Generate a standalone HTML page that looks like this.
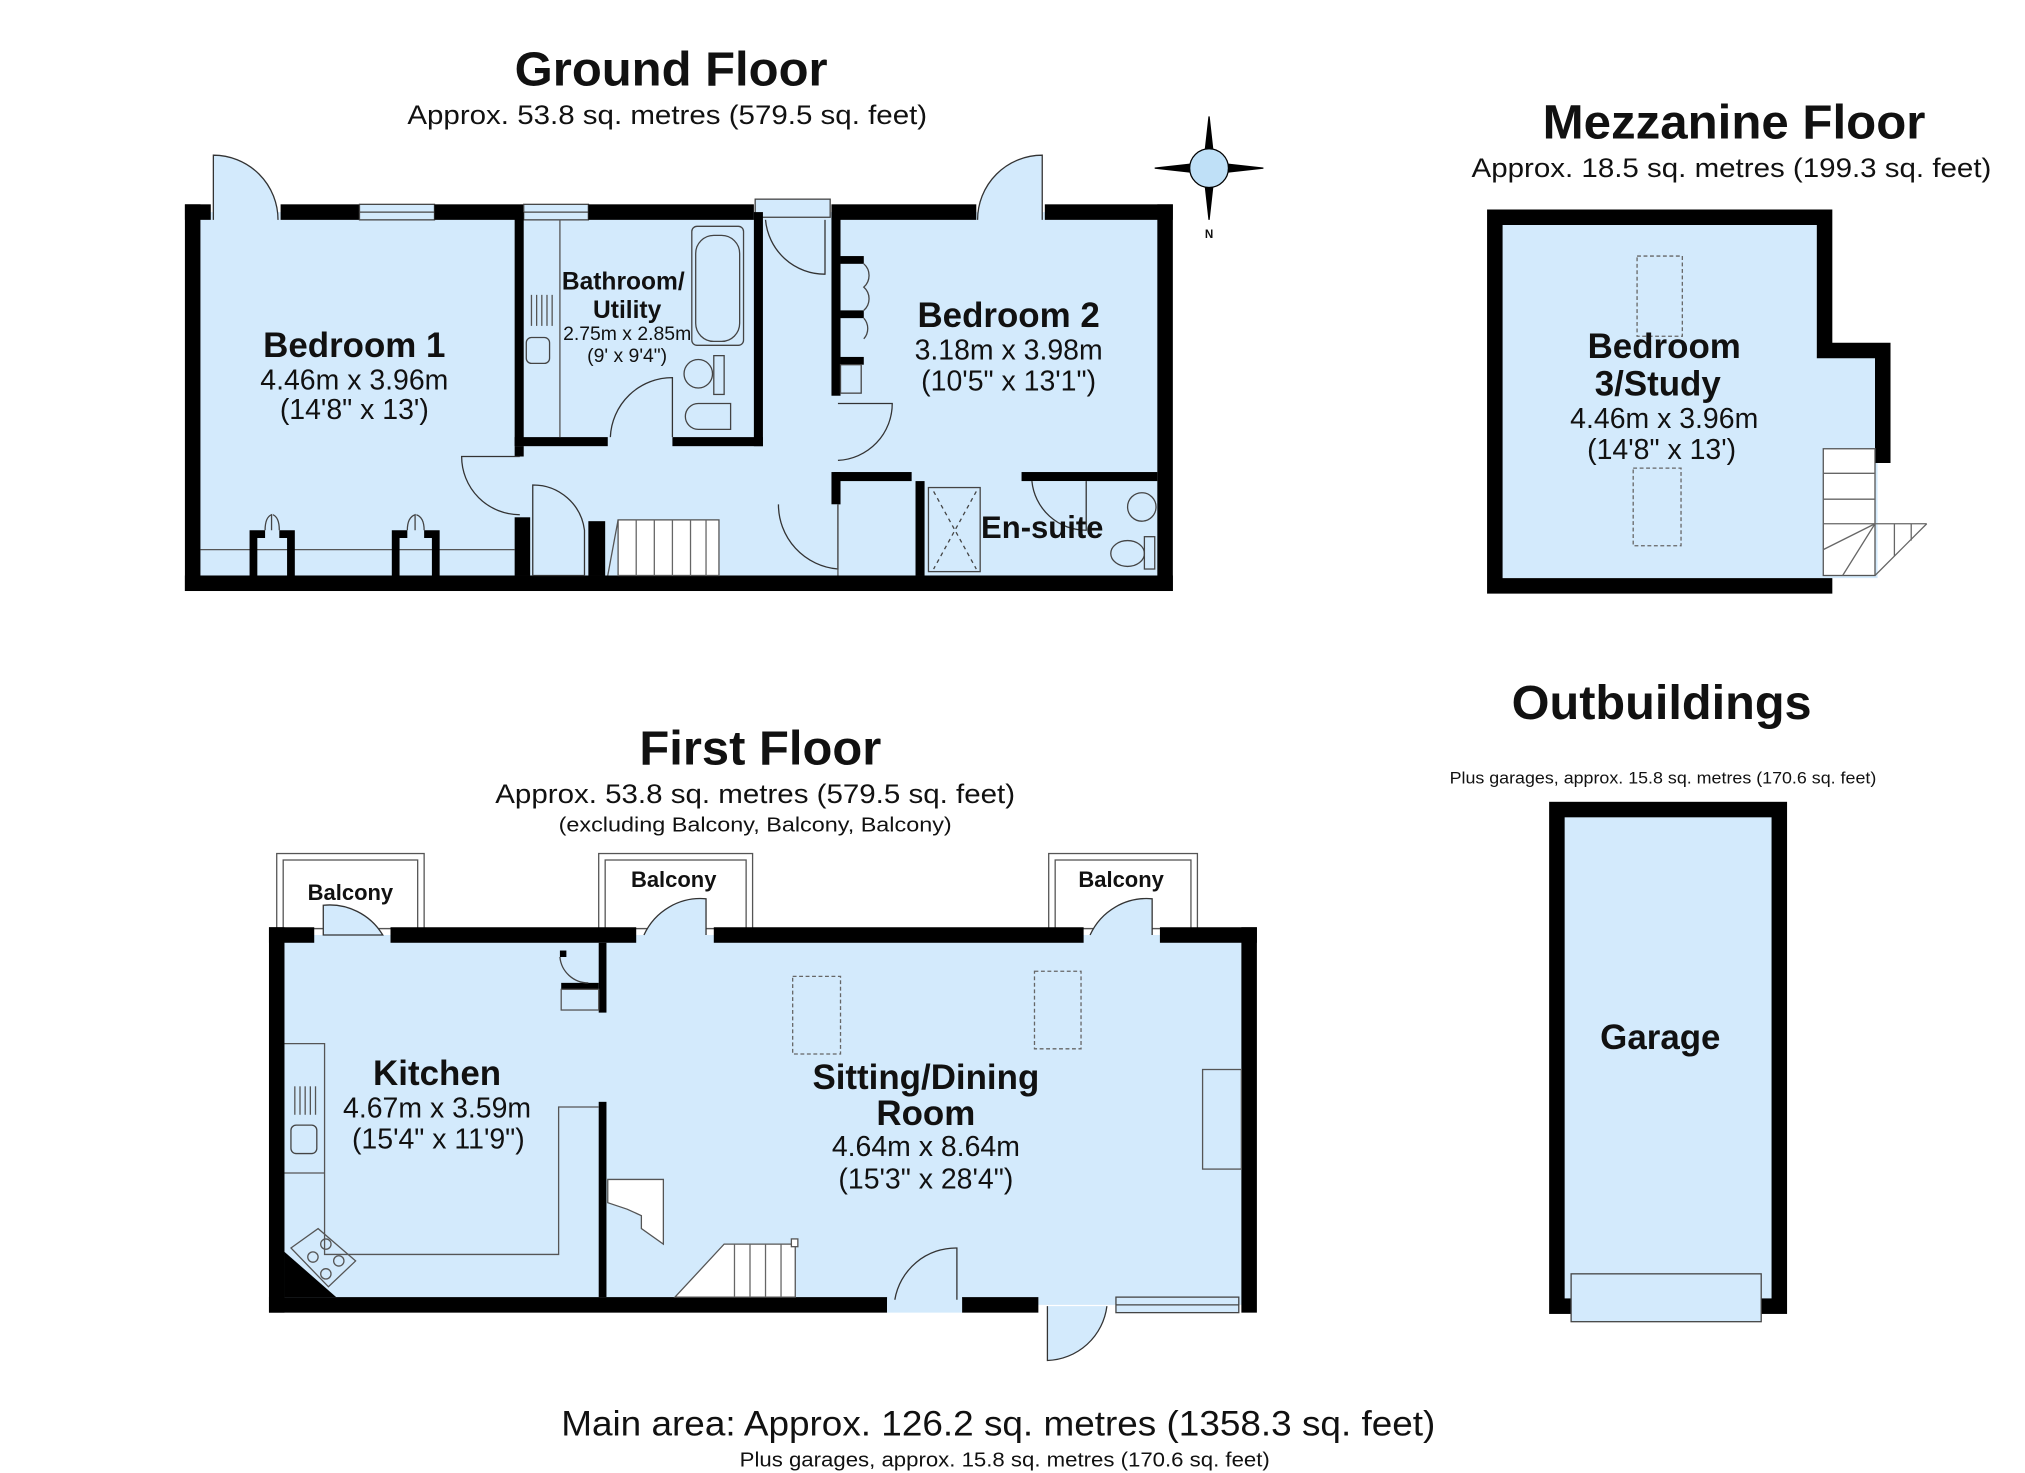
<!DOCTYPE html>
<html><head><meta charset="utf-8"><style>
html,body{margin:0;padding:0;background:#fff;}
svg{display:block;}
text{font-family:"Liberation Sans",Arial,sans-serif;fill:#111;}
.b{font-weight:bold;}
</style></head><body>
<svg width="2025" height="1473" viewBox="0 0 1566 1139" preserveAspectRatio="none" xmlns="http://www.w3.org/2000/svg">
<defs><style>.fl{fill:#d3eafc}.w{fill:#000}.ln{stroke:#555;stroke-width:1;fill:none}.dr{fill:#d3eafc;stroke:#333;stroke-width:1}</style></defs>
<rect width="1566" height="1139" fill="#fff"/>

<!-- ===== GROUND FLOOR ===== -->
<text x="519" y="66" text-anchor="middle" class="b" font-size="37" textLength="242" lengthAdjust="spacingAndGlyphs">Ground Floor</text>
<text x="516" y="96" text-anchor="middle" font-size="21" textLength="402" lengthAdjust="spacingAndGlyphs">Approx. 53.8 sq. metres (579.5 sq. feet)</text>
<g stroke="#000" stroke-width="1" fill="#000">
<polygon points="935,90 931,126 939,126"/>
<polygon points="935,170 931,134 939,134"/>
<polygon points="893,130 929,126 929,134"/>
<polygon points="977,130 941,126 941,134"/>
<circle cx="935" cy="130" r="15" fill="#bfe0f7"/>
</g>
<text x="935" y="184" text-anchor="middle" class="b" font-size="9">N</text>

<rect class="fl" x="149" y="164" width="752" height="287"/>
<rect class="w" x="143" y="158" width="20" height="12"/>
<rect class="w" x="217" y="158" width="61" height="12"/>
<rect x="278" y="158" width="58" height="12" fill="#d3eafc" stroke="#444" stroke-width="1"/>
<line x1="278" y1="164" x2="336" y2="164" stroke="#444"/>
<rect class="w" x="336" y="158" width="69" height="12"/>
<rect x="405" y="158" width="50" height="12" fill="#d3eafc" stroke="#444" stroke-width="1"/>
<line x1="405" y1="164" x2="455" y2="164" stroke="#444"/>
<rect class="w" x="455" y="158" width="128" height="12"/>
<rect x="584" y="154" width="58" height="14" fill="#d3eafc" stroke="#444" stroke-width="1"/>
<rect class="w" x="643" y="158" width="112" height="12"/>
<rect class="w" x="808" y="158" width="99" height="12"/>
<rect class="w" x="143" y="158" width="12" height="299"/>
<rect class="w" x="895" y="158" width="12" height="299"/>
<rect class="w" x="143" y="445" width="764" height="12"/>
<path class="dr" d="M165,170 L165,120 A50,50 0 0 1 215,170"/>
<path class="dr" d="M806,170 L806,120 A50,50 0 0 0 756,170"/>
<path class="dr" d="M638,170 L638,212 A46,46 0 0 1 592,170"/>
<rect class="w" x="398" y="164" width="7" height="181"/>
<rect class="w" x="583" y="164" width="7" height="181"/>
<rect class="w" x="398" y="338" width="72" height="7"/>
<rect class="w" x="520" y="338" width="70" height="7"/>
<path class="dr" d="M520,338 L520,292 A48,48 0 0 0 472,338"/>
<rect x="535" y="175" width="40" height="92" rx="4" fill="#d3eafc" stroke="#444"/>
<rect x="538" y="182" width="34" height="82" rx="14" fill="none" stroke="#444"/>
<circle cx="540" cy="289" r="11" fill="none" stroke="#444"/><rect x="552" y="275" width="8" height="30" fill="none" stroke="#444"/>
<path d="M565,312 L540,312 A10,10 0 0 0 540,332 L565,332 Z" fill="none" stroke="#444"/>
<line x1="433" y1="170" x2="433" y2="338" class="ln"/>
<g stroke="#555"><line x1="411" y1="228" x2="411" y2="252"/><line x1="415" y1="228" x2="415" y2="252"/><line x1="419" y1="228" x2="419" y2="252"/><line x1="423" y1="228" x2="423" y2="252"/><line x1="427" y1="228" x2="427" y2="252"/></g>
<rect x="407" y="261" width="18" height="20" rx="4" fill="none" stroke="#444"/>
<rect class="w" x="643" y="164" width="7" height="142"/>
<rect class="w" x="650" y="198" width="18" height="6"/>
<rect class="w" x="650" y="240" width="18" height="6"/>
<rect class="w" x="650" y="276" width="18" height="6"/>
<path d="M668,204 A12,12 0 0 1 668,222 A12,12 0 0 1 668,240" fill="none" stroke="#444"/>
<path d="M668,246 A12,12 0 0 1 668,262" fill="none" stroke="#444"/>
<rect x="650" y="282" width="16" height="22" fill="none" stroke="#444"/>
<path class="dr" d="M648,312 L690,312 A44,44 0 0 1 648,356"/>
<rect class="w" x="645" y="365" width="60" height="7"/>
<rect class="w" x="790" y="365" width="105" height="7"/>
<rect class="w" x="643" y="365" width="7" height="25"/>
<rect class="w" x="708" y="372" width="7" height="73"/>
<path class="dr" d="M648,390 L648,440 A50,50 0 0 1 602,390"/>
<line x1="648" y1="390" x2="648" y2="445" stroke="#555"/>
<path class="dr" d="M840,372 L840,410 A42,42 0 0 1 798,372"/>
<rect x="718" y="377" width="40" height="65" fill="none" stroke="#444"/>
<path d="M722,380 L755,440 M755,380 L722,440" stroke="#444" stroke-dasharray="3,3"/>
<circle cx="883" cy="392" r="11" fill="none" stroke="#444"/>
<ellipse cx="872" cy="428" rx="13" ry="10" fill="none" stroke="#444"/>
<rect x="885" y="415" width="8" height="25" fill="none" stroke="#444"/>
<rect class="w" x="398" y="345" width="7" height="8"/>
<path class="dr" d="M402,353 L357,353 A45,45 0 0 0 402,398"/>
<rect class="w" x="398" y="400" width="12" height="45"/>
<path class="dr" d="M412,375 A40,40 0 0 1 452,410 L452,445 L412,445 Z"/>
<rect class="w" x="455" y="403" width="13" height="42"/>
<line x1="155" y1="425" x2="398" y2="425" class="ln"/>
<path class="w" d="M193,410 h6 v35 h-6z M222,410 h6 v35 h-6z M193,410 h12 v6 h-12z M216,410 h12 v6 h-12z"/>
<path d="M205,410 Q205,400 210,398 L210,410 M216,410 Q216,400 211,398" fill="none" stroke="#444"/>
<path class="w" d="M303,410 h6 v35 h-6z M334,410 h6 v35 h-6z M303,410 h12 v6 h-12z M328,410 h12 v6 h-12z"/>
<path d="M315,410 Q315,400 321,398 L321,410 M328,410 Q328,400 322,398" fill="none" stroke="#444"/>
<rect x="478" y="402" width="78" height="43" fill="#fff" stroke="#555"/>
<g stroke="#666"><line x1="492" y1="402" x2="492" y2="445"/><line x1="506" y1="402" x2="506" y2="445"/><line x1="520" y1="402" x2="520" y2="445"/><line x1="534" y1="402" x2="534" y2="445"/><line x1="546" y1="402" x2="546" y2="445"/></g>
<path d="M478,402 L470,445" stroke="#555"/>
<text x="274" y="276" text-anchor="middle" class="b" font-size="27">Bedroom 1</text>
<text x="274" y="301" text-anchor="middle" font-size="22">4.46m x 3.96m</text>
<text x="274" y="324" text-anchor="middle" font-size="22">(14'8" x 13')</text>
<text x="482" y="224" text-anchor="middle" class="b" font-size="19">Bathroom/</text>
<text x="485" y="246" text-anchor="middle" class="b" font-size="19">Utility</text>
<text x="485" y="263" text-anchor="middle" font-size="15">2.75m x 2.85m</text>
<text x="485" y="280" text-anchor="middle" font-size="15">(9' x 9'4")</text>
<text x="780" y="253" text-anchor="middle" class="b" font-size="27">Bedroom 2</text>
<text x="780" y="278" text-anchor="middle" font-size="22">3.18m x 3.98m</text>
<text x="780" y="302" text-anchor="middle" font-size="22">(10'5" x 13'1")</text>
<text x="806" y="416" text-anchor="middle" class="b" font-size="24">En-suite</text>

<!-- ===== MEZZANINE ===== -->
<text x="1341" y="107" text-anchor="middle" class="b" font-size="37" textLength="296" lengthAdjust="spacingAndGlyphs">Mezzanine Floor</text>
<text x="1339" y="137" text-anchor="middle" font-size="21" textLength="402" lengthAdjust="spacingAndGlyphs">Approx. 18.5 sq. metres (199.3 sq. feet)</text>
<path class="fl" d="M1160,172 L1405,172 L1405,275 L1452,275 L1452,447 L1160,447 Z"/>
<path class="w" d="M1150,162 L1417,162 L1417,265 L1462,265 L1462,358 L1450,358 L1450,277 L1405,277 L1405,174 L1162,174 L1162,447 L1417,447 L1417,459 L1150,459 Z"/>
<rect x="1266" y="198" width="35" height="62" fill="none" stroke="#666" stroke-dasharray="3,2"/>
<rect x="1263" y="362" width="37" height="60" fill="none" stroke="#666" stroke-dasharray="3,2"/>
<rect x="1410" y="347" width="40" height="98" fill="#fff" stroke="#555"/>
<g stroke="#666"><line x1="1410" y1="366" x2="1450" y2="366"/><line x1="1410" y1="386" x2="1450" y2="386"/><line x1="1410" y1="405" x2="1450" y2="405"/><line x1="1450" y1="405" x2="1410" y2="425"/><line x1="1450" y1="405" x2="1425" y2="445"/><line x1="1450" y1="405" x2="1490" y2="405"/><line x1="1450" y1="445" x2="1490" y2="405"/><line x1="1465" y1="405" x2="1465" y2="430"/><line x1="1478" y1="405" x2="1478" y2="418"/></g>
<text x="1287" y="277" text-anchor="middle" class="b" font-size="27">Bedroom</text>
<text x="1282" y="306" text-anchor="middle" class="b" font-size="27">3/Study</text>
<text x="1287" y="331" text-anchor="middle" font-size="22">4.46m x 3.96m</text>
<text x="1285" y="355" text-anchor="middle" font-size="22">(14'8" x 13')</text>

<!-- ===== OUTBUILDINGS ===== -->
<text x="1285" y="556" text-anchor="middle" class="b" font-size="37" textLength="232" lengthAdjust="spacingAndGlyphs">Outbuildings</text>
<text x="1286" y="606" text-anchor="middle" font-size="13" textLength="330" lengthAdjust="spacingAndGlyphs">Plus garages, approx. 15.8 sq. metres (170.6 sq. feet)</text>
<rect class="w" x="1198" y="620" width="184" height="396"/>
<rect class="fl" x="1210" y="632" width="160" height="372"/>
<rect x="1215" y="985" width="147" height="37" fill="#d3eafc" stroke="#444"/>
<text x="1284" y="811" text-anchor="middle" class="b" font-size="27">Garage</text>

<!-- ===== FIRST FLOOR ===== -->
<text x="588" y="591" text-anchor="middle" class="b" font-size="37" textLength="187" lengthAdjust="spacingAndGlyphs">First Floor</text>
<text x="584" y="621" text-anchor="middle" font-size="21" textLength="402" lengthAdjust="spacingAndGlyphs">Approx. 53.8 sq. metres (579.5 sq. feet)</text>
<text x="584" y="643" text-anchor="middle" font-size="16" textLength="304" lengthAdjust="spacingAndGlyphs">(excluding Balcony, Balcony, Balcony)</text>
<g fill="#fff" stroke="#555">
<rect x="214" y="660" width="114" height="58"/><rect x="219" y="665" width="104" height="53"/>
<rect x="463" y="660" width="119" height="58"/><rect x="468" y="665" width="109" height="53"/>
<rect x="811" y="660" width="115" height="58"/><rect x="816" y="665" width="105" height="53"/>
</g>
<rect class="fl" x="214" y="723" width="752" height="286"/>
<rect class="w" x="208" y="717" width="35" height="12"/>
<rect class="w" x="302" y="717" width="190" height="12"/>
<rect class="w" x="552" y="717" width="286" height="12"/>
<rect class="w" x="897" y="717" width="75" height="12"/>
<rect class="w" x="208" y="717" width="12" height="298"/>
<rect class="w" x="960" y="717" width="12" height="298"/>
<rect class="w" x="208" y="1003" width="478" height="12"/>
<rect class="w" x="744" y="1003" width="59" height="12"/>
<rect x="863" y="1003" width="95" height="12" fill="#d3eafc" stroke="#444"/>
<line x1="863" y1="1009" x2="958" y2="1009" stroke="#444"/>
<rect x="686" y="1004" width="58" height="11" fill="#d3eafc"/>
<path class="dr" d="M250,723 L250,700 A48,48 0 0 1 296,723 Z"/>
<path class="dr" d="M546,723 L546,695 A48,48 0 0 0 498,723"/>
<path class="dr" d="M891,723 L891,695 A48,48 0 0 0 843,723"/>
<path class="dr" d="M740,1005 L740,965 A48,48 0 0 0 692,1005"/>
<path class="dr" d="M810,1010 L810,1052 A48,48 0 0 0 856,1010"/>
<rect class="w" x="463" y="729" width="6" height="54"/>
<rect class="w" x="434" y="760" width="29" height="5"/>
<rect class="w" x="433" y="735" width="5" height="5"/>
<path d="M433,740 A22,22 0 0 0 455,760" fill="none" stroke="#444"/>
<rect x="434" y="765" width="29" height="16" fill="none" stroke="#555"/>
<rect class="w" x="463" y="852" width="6" height="151"/>
<path d="M220,807 L251,807 L251,970 L432,970 L432,856 L463,856" fill="none" stroke="#555"/>
<line x1="220" y1="907" x2="251" y2="907" class="ln"/>
<g stroke="#555"><line x1="228" y1="840" x2="228" y2="862"/><line x1="232" y1="840" x2="232" y2="862"/><line x1="236" y1="840" x2="236" y2="862"/><line x1="240" y1="840" x2="240" y2="862"/><line x1="244" y1="840" x2="244" y2="862"/></g>
<rect x="225" y="870" width="20" height="22" rx="4" fill="none" stroke="#444"/>
<path class="w" d="M220,968 L260,1003 L220,1003 Z"/>
<path d="M225,965 L246,950 L275,975 L254,995 Z" fill="none" stroke="#555"/>
<g fill="none" stroke="#555"><circle cx="242" cy="972" r="4"/><circle cx="252" cy="962" r="4"/><circle cx="262" cy="975" r="4"/><circle cx="252" cy="985" r="4"/></g>
<path d="M470,912 L513,912 L513,962 L496,950 L496,940 L485,935 L470,930 Z" fill="#fff" stroke="#555"/>
<path d="M522,1003 L560,962 L615,962 L615,1003 Z" fill="#fff" stroke="#555"/>
<g stroke="#666"><line x1="568" y1="962" x2="568" y2="1003"/><line x1="580" y1="962" x2="580" y2="1003"/><line x1="592" y1="962" x2="592" y2="1003"/><line x1="604" y1="962" x2="604" y2="1003"/></g>
<rect x="612" y="958" width="5" height="6" fill="#fff" stroke="#555"/>
<rect x="613" y="755" width="37" height="60" fill="none" stroke="#666" stroke-dasharray="3,2"/>
<rect x="800" y="751" width="36" height="60" fill="none" stroke="#666" stroke-dasharray="3,2"/>
<rect x="930" y="827" width="30" height="77" fill="none" stroke="#555"/>
<text x="271" y="696" text-anchor="middle" class="b" font-size="17">Balcony</text>
<text x="521" y="686" text-anchor="middle" class="b" font-size="17">Balcony</text>
<text x="867" y="686" text-anchor="middle" class="b" font-size="17">Balcony</text>
<text x="338" y="839" text-anchor="middle" class="b" font-size="27">Kitchen</text>
<text x="338" y="864" text-anchor="middle" font-size="22">4.67m x 3.59m</text>
<text x="339" y="888" text-anchor="middle" font-size="22">(15'4" x 11'9")</text>
<text x="716" y="842" text-anchor="middle" class="b" font-size="27">Sitting/Dining</text>
<text x="716" y="870" text-anchor="middle" class="b" font-size="27">Room</text>
<text x="716" y="894" text-anchor="middle" font-size="22">4.64m x 8.64m</text>
<text x="716" y="919" text-anchor="middle" font-size="22">(15'3" x 28'4")</text>

<text x="772" y="1110" text-anchor="middle" font-size="27" textLength="676" lengthAdjust="spacingAndGlyphs">Main area: Approx. 126.2 sq. metres (1358.3 sq. feet)</text>
<text x="777" y="1134" text-anchor="middle" font-size="16" textLength="410" lengthAdjust="spacingAndGlyphs">Plus garages, approx. 15.8 sq. metres (170.6 sq. feet)</text>
</svg>
</body></html>
